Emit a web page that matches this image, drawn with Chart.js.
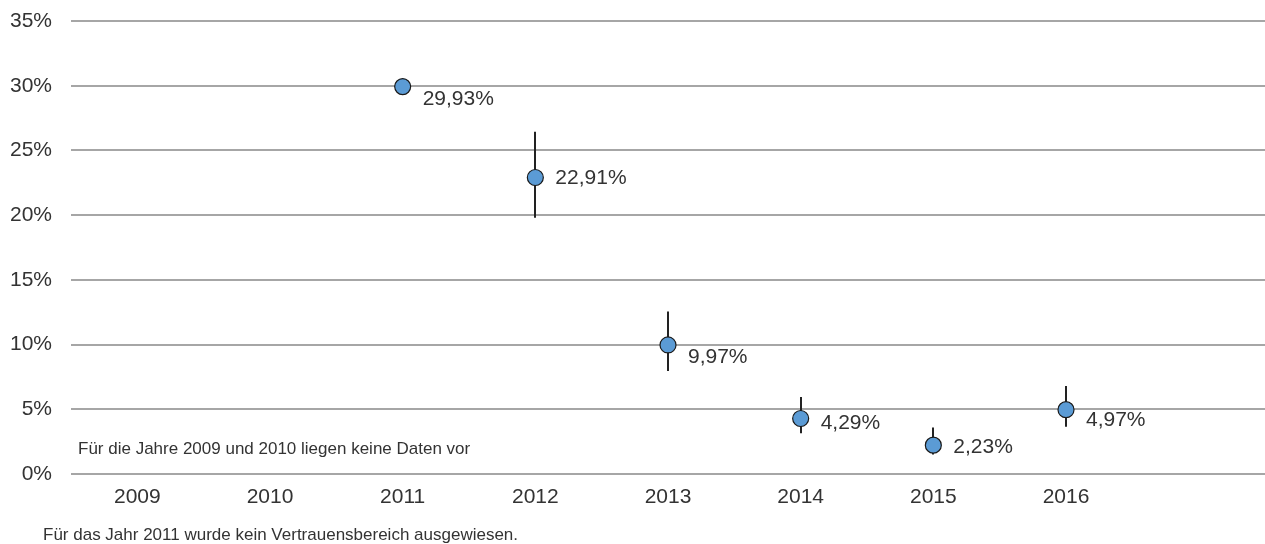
<!DOCTYPE html>
<html lang="de">
<head>
<meta charset="utf-8">
<script src="https://cdn.jsdelivr.net/npm/chart.js@4/dist/chart.umd.min.js"></script>
<style>
  html, body { margin: 0; padding: 0; background: #fff; }
  #wrap { width: 1265px; height: 544px; position: relative; }
</style>
</head>
<body>
<div id="wrap"><canvas id="myChart" width="1265" height="544"></canvas></div>
<script>
// Jahre (letzte Kategorie bleibt leer)
const years = ['2009', '2010', '2011', '2012', '2013', '2014', '2015', '2016', ''];
// Anteil in %
const shares = [null, null, 29.93, 22.91, 9.97, 4.29, 2.23, 4.97, null];
// Vertrauensbereich unten / oben
const ciLow = [null, null, null, 19.8, 7.95, 3.15, 1.5, 3.65, null];
const ciHigh = [null, null, null, 26.45, 12.55, 5.95, 3.6, 6.8, null];
const yTicks = [0, 5, 10, 15, 20, 25, 30, 35];

const noteText = 'Für die Jahre 2009 und 2010 liegen keine Daten vor';
const footText = 'Für das Jahr 2011 wurde kein Vertrauensbereich ausgewiesen.';

const fontFamily = '"Liberation Sans", Arial, sans-serif';
const textColor = '#333333';

const fmt = v => v.toFixed(2).replace('.', ',') + '%';

// Fehlerbalken hinter den Punkten
const errorBars = {
  id: 'errorBars',
  beforeDatasetsDraw(chart) {
    const { ctx, scales: { x, y } } = chart;
    ctx.save();
    ctx.strokeStyle = '#222222';
    ctx.lineWidth = 2;
    ciLow.forEach((lo, i) => {
      if (lo === null) return;
      const px = Math.round(x.getPixelForValue(i));
      ctx.beginPath();
      ctx.moveTo(px, y.getPixelForValue(lo));
      ctx.lineTo(px, y.getPixelForValue(ciHigh[i]));
      ctx.stroke();
    });
    ctx.restore();
  }
};

// Werte rechts neben den Punkten, dazu die Hinweistexte
const labelDy = [0, 0, 13, 1, 12, 5, 2, 11, 0];
const valueLabels = {
  id: 'valueLabels',
  afterDatasetsDraw(chart) {
    const { ctx, scales: { x, y } } = chart;
    ctx.save();
    ctx.fillStyle = textColor;
    ctx.font = '21px ' + fontFamily;
    ctx.textAlign = 'left';
    ctx.textBaseline = 'middle';
    shares.forEach((v, i) => {
      if (v === null) return;
      ctx.fillText(fmt(v), x.getPixelForValue(i) + 20, y.getPixelForValue(v) + labelDy[i]);
    });
    ctx.font = '17px ' + fontFamily;
    ctx.fillText(noteText, 78, 449);
    ctx.fillText(footText, 43, 535);
    ctx.restore();
  }
};

new Chart(document.getElementById('myChart'), {
  type: 'line',
  data: {
    labels: years,
    datasets: [{
      data: shares,
      showLine: false,
      pointRadius: 8,
      pointHoverRadius: 8,
      pointBackgroundColor: '#5b9bd5',
      pointBorderColor: '#1a1a1a',
      pointBorderWidth: 1.2
    }]
  },
  options: {
    responsive: false,
    animation: false,
    layout: { autoPadding: false, padding: { top: 21, right: 0, bottom: 0, left: 0 } },
    plugins: { legend: { display: false }, tooltip: { enabled: false } },
    scales: {
      x: {
        offset: true,
        grid: { display: false, drawTicks: false },
        border: { display: false },
        ticks: { color: textColor, font: { family: fontFamily, size: 21 }, padding: 11, maxRotation: 0 },
        afterFit(scale) { scale.height = 70; }
      },
      y: {
        min: 0,
        max: 35,
        afterBuildTicks(scale) { scale.ticks = yTicks.map(v => ({ value: v })); },
        grid: { color: '#a6a6a6', lineWidth: 2, drawTicks: false },
        border: { display: false },
        ticks: { color: textColor, font: { family: fontFamily, size: 21 }, padding: 19, callback: v => v + '%' },
        afterFit(scale) {
          scale.width = 71;
          scale.paddingTop = 0;
          scale.paddingBottom = 0;
        }
      }
    }
  },
  plugins: [errorBars, valueLabels]
});
</script>
</body>
</html>
